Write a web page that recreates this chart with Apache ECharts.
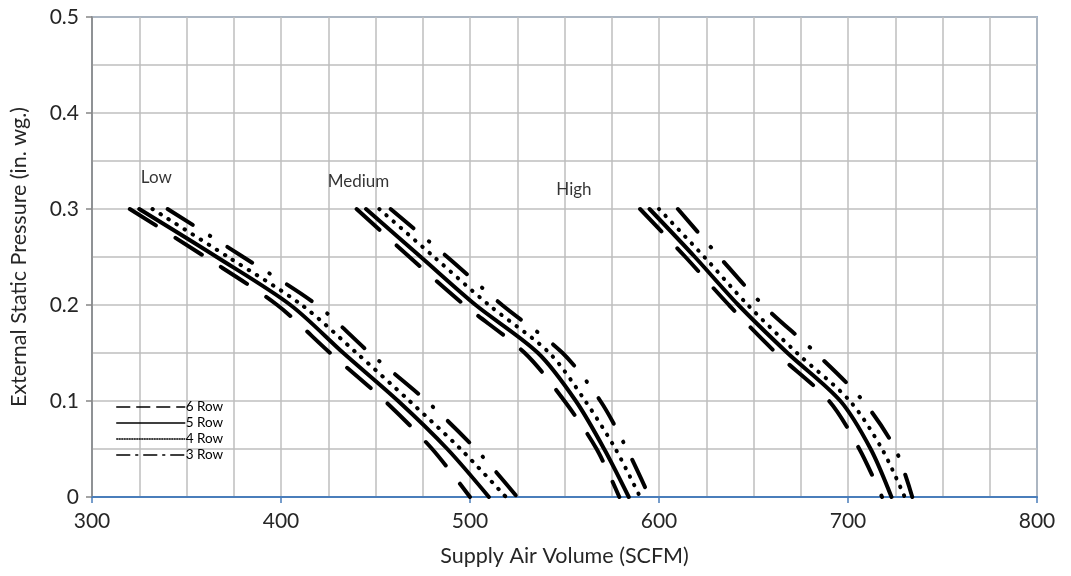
<!DOCTYPE html>
<html lang="en">

<head>
    <meta charset="UTF-8">
    <title>Fan curves</title>
    <script src="https://cdn.jsdelivr.net/npm/echarts@6.0.0/dist/echarts.min.js"></script>
</head>

<body style="margin: 0; background-color: #ffffff;">
    <div id="main" style="width: 1071px;height: 576px;"></div>

    <script type="text/javascript">
        // pressure steps (in. wg.), shared by every curve
        var pressure = [0.3, 0.25, 0.2, 0.15, 0.1, 0.05, 0];

        // airflow (SCFM) at each pressure step
        var low6 = [320, 360, 398, 426, 455, 480, 500];
        var low5 = [325, 366, 405, 433, 462, 488, 510];
        var low4 = [332, 372, 411, 440, 468, 495, 519];
        var low3 = [340, 380, 419, 447, 477, 503, 525];

        var med6 = [440, 468, 497, 529, 550, 567, 579];
        var med5 = [445, 474, 503, 536, 556, 571, 584];
        var med4 = [452, 481, 510, 542, 561, 577, 590];
        var med3 = [458, 488, 517, 549, 569, 583, 595];

        var high6 = [590, 614, 637, 662, 690, 706, 718];
        var high5 = [595, 619, 642, 668, 696, 712, 723];
        var high4 = [600, 624, 647, 673, 701, 718, 730];
        var high3 = [610, 632, 655, 683, 708, 725, 734];

        // speed labels
        var speedNames = ['Low', 'Medium', 'High'];
        var speedX = [334, 441, 555];
        var speedY = [0.333, 0.329, 0.32];

        var rowNames = ['6 Row', '5 Row', '4 Row', '3 Row'];
        var font = 'Lato';

        // line patterns per row count (plot / legend)
        var rowDash = {
            '6 Row': [31, 23],
            '5 Row': 'solid',
            '4 Row': [0.5, 9],
            '3 Row': [30, 20, 0.5, 20]
        };
        var legendDash = {
            '6 Row': [13, 7],
            '5 Row': 'solid',
            '4 Row': [1, 1.5],
            '3 Row': [13, 6, 2, 6]
        };

        function pairs(xs) {
            var out = [];
            for (var i = 0; i < xs.length; i++) {
                out.push([xs[i], pressure[i]]);
            }
            return out;
        }

        function curve(name, xs) {
            return {
                name: name,
                type: 'line',
                data: pairs(xs),
                symbol: 'none',
                smooth: 0.3,
                itemStyle: { color: '#000000' },
                lineStyle: {
                    color: '#000000',
                    width: 4,
                    type: rowDash[name],
                    cap: 'round'
                },
                z: 3
            };
        }

        var series = [
            curve('6 Row', low6), curve('5 Row', low5), curve('4 Row', low4), curve('3 Row', low3),
            curve('6 Row', med6), curve('5 Row', med5), curve('4 Row', med4), curve('3 Row', med3),
            curve('6 Row', high6), curve('5 Row', high5), curve('4 Row', high4), curve('3 Row', high3)
        ];

        var labelData = [];
        for (var i = 0; i < speedNames.length; i++) {
            labelData.push({ name: speedNames[i], value: [speedX[i], speedY[i]] });
        }
        series.push({
            name: 'speeds',
            type: 'scatter',
            symbolSize: 0,
            data: labelData,
            silent: true,
            label: {
                show: true,
                position: 'inside',
                formatter: '{b}',
                color: '#000000',
                fontFamily: font,
                fontSize: 17
            }
        });

        var legendData = rowNames.map(function (n) {
            return {
                name: n,
                itemStyle: { opacity: 0 },
                lineStyle: { width: 1.5, type: legendDash[n], color: '#000000' }
            };
        });

        var gridLine = { color: '#bfbfbf', width: 1.5 };
        var tickText = { fontFamily: font, fontSize: 21, color: '#262626' };

        var myChart = echarts.init(document.getElementById('main'));
        myChart.setOption({
            animation: false,
            grid: {
                left: 91,
                right: 34,
                top: 17,
                bottom: 79,
                show: true,
                borderColor: '#4a7ebb',
                borderWidth: 1.5
            },
            legend: {
                data: legendData,
                orient: 'vertical',
                left: 111,
                top: 395,
                itemWidth: 68,
                itemHeight: 14,
                itemGap: 2,
                itemStyle: { opacity: 0 },
                textStyle: { fontFamily: font, fontSize: 13.5, color: '#000000', padding: [0, 0, 0, -4] }
            },
            xAxis: {
                type: 'value',
                min: 300,
                max: 800,
                interval: 100,
                name: 'Supply Air Volume (SCFM)',
                nameLocation: 'middle',
                nameGap: 48,
                nameTextStyle: { fontFamily: font, fontSize: 21.5, color: '#262626' },
                axisLine: { show: true, lineStyle: { color: '#4a7ebb', width: 2 } },
                axisTick: { show: true, length: 6, lineStyle: { color: '#4a7ebb', width: 1.5 } },
                axisLabel: Object.assign({ margin: 14 }, tickText),
                splitLine: { show: true, lineStyle: gridLine },
                minorTick: { show: false, splitNumber: 4 },
                minorSplitLine: { show: true, lineStyle: gridLine }
            },
            yAxis: {
                type: 'value',
                min: 0,
                max: 0.5,
                interval: 0.1,
                name: 'External Static Pressure (in. wg.)',
                nameLocation: 'middle',
                nameGap: 62,
                nameTextStyle: { fontFamily: font, fontSize: 21.5, color: '#262626' },
                axisLine: { show: true, lineStyle: { color: '#868686', width: 1.5 } },
                axisTick: { show: true, length: 6, lineStyle: { color: '#868686', width: 1.5 } },
                axisLabel: Object.assign({
                    margin: 13,
                    formatter: function (v) {
                        return v === 0 ? '0' : v.toFixed(1);
                    }
                }, tickText),
                splitLine: { show: true, lineStyle: gridLine },
                minorTick: { show: false, splitNumber: 2 },
                minorSplitLine: { show: true, lineStyle: gridLine }
            },
            series: series
        });
    </script>
</body>

</html>
